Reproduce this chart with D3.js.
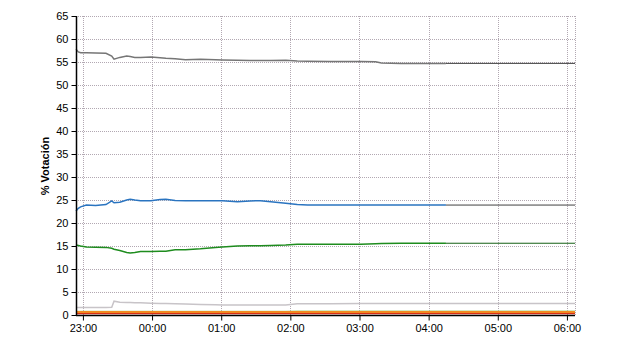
<!DOCTYPE html>
<html>
<head>
<meta charset="utf-8">
<script src="https://cdnjs.cloudflare.com/ajax/libs/d3/7.8.5/d3.min.js"></script>
<style>
  body { margin: 0; background: #fff; }
  svg text { font-family: "Liberation Sans", Arial, sans-serif; font-size: 11px; fill: #000; }
</style>
</head>
<body>
<div class="chart"></div>
<script>
var width = 640;
var height = 350;

// time of each reading (first ones are the evening before)
var times = ["22:54","22:56","22:58","23:03","23:11","23:20","23:25","23:27","23:32","23:38",
  "23:41","23:45","23:50","23:59","00:07","00:12","00:20","00:29","00:42","00:55",
  "01:01","01:14","01:25","01:34","01:43","01:56","02:06","02:15","02:35","03:01",
  "03:14","03:19","03:36","04:15","06:07"];

var grayVals = [57.8,57.2,57.0,57.0,56.95,56.9,56.3,55.6,56.0,56.3,
  56.2,56.0,56.0,56.1,55.9,55.8,55.7,55.5,55.6,55.5,
  55.45,55.4,55.35,55.3,55.35,55.4,55.2,55.15,55.1,55.1,
  55.05,54.8,54.7,54.7,54.7];
var blueVals = [22.6,23.2,23.5,23.9,23.8,24.0,24.8,24.4,24.5,25.0,
  25.15,25.0,24.85,24.85,25.1,25.15,24.9,24.85,24.85,24.85,
  24.85,24.6,24.8,24.85,24.6,24.3,24.0,23.9,23.9,23.9,
  23.9,23.9,23.9,23.9,23.9];
var greenVals = [15.2,15.1,15.0,14.8,14.75,14.7,14.5,14.3,14.0,13.6,
  13.5,13.6,13.8,13.8,13.85,13.85,14.2,14.2,14.4,14.7,
  14.8,15.0,15.05,15.07,15.1,15.2,15.4,15.4,15.4,15.4,
  15.5,15.55,15.6,15.6,15.6];
var lightVals = [1.65,1.65,1.65,1.65,1.65,1.65,1.7,3.0,2.75,2.7,
  2.7,2.65,2.65,2.55,2.5,2.5,2.45,2.4,2.3,2.25,
  2.2,2.2,2.2,2.15,2.15,2.15,2.45,2.45,2.45,2.5,
  2.5,2.5,2.5,2.5,2.5];
var lgreenVals = [0.75,0.75,0.75,0.75,0.75,0.75,0.75,0.75,0.75,0.75,
  0.75,0.75,0.75,0.75,0.75,0.75,0.75,0.75,0.75,0.75,
  0.75,0.75,0.75,0.75,0.75,0.75,0.8,0.8,0.8,0.8,
  0.8,0.8,0.8,0.8,0.8];
var orangeVals = [0.55,0.55,0.55,0.55,0.55,0.55,0.55,0.55,0.55,0.55,
  0.55,0.55,0.55,0.55,0.55,0.55,0.55,0.55,0.55,0.55,
  0.55,0.55,0.55,0.55,0.55,0.55,0.55,0.55,0.55,0.55,
  0.55,0.55,0.55,0.55,0.55];
var redVals = [0.3,0.3,0.3,0.3,0.3,0.3,0.3,0.3,0.3,0.3,
  0.3,0.3,0.3,0.3,0.3,0.3,0.3,0.3,0.3,0.3,
  0.3,0.3,0.3,0.3,0.3,0.3,0.3,0.3,0.3,0.3,
  0.3,0.3,0.3,0.3,0.3];

var yTicks = [0,5,10,15,20,25,30,35,40,45,50,55,60,65];
var xTickLabels = ["23:00","00:00","01:00","02:00","03:00","04:00","05:00","06:00"];

var parseT = function(s){
  var h = +s.slice(0,2);
  var day = h >= 20 ? 1 : 2;
  return new Date(2000, 0, day, h, +s.slice(3,5));
};

var dates = times.map(parseT);
var xTicks = xTickLabels.map(parseT);

var svg = d3.select(".chart").append("svg")
  .attr("width", width)
  .attr("height", height);

var x = d3.scaleTime().domain([dates[0], dates[dates.length - 1]]).range([76, 575]);
var y = d3.scaleLinear().domain([0, 65]).range([315, 16]);

// grid
var grid = svg.append("g")
  .attr("stroke", "#b2a8b2")
  .attr("stroke-dasharray", "1,1")
  .attr("shape-rendering", "crispEdges");

grid.selectAll(".hg").data(yTicks.slice(1)).enter().append("line")
  .attr("x1", 76).attr("x2", 575)
  .attr("y1", function(d){ return Math.round(y(d)) + 0.5; })
  .attr("y2", function(d){ return Math.round(y(d)) + 0.5; });

grid.selectAll(".vg").data(xTicks.concat([dates[dates.length - 1]])).enter().append("line")
  .attr("y1", 16).attr("y2", 315)
  .attr("x1", function(d){ return Math.round(x(d)) + 0.5; })
  .attr("x2", function(d){ return Math.round(x(d)) + 0.5; });

// series
var series = [
  {vals: lightVals, color: "#c8c4c8", width: 1.5},
  {vals: lgreenVals, color: "#a8d080", width: 1.5},
  {vals: orangeVals, color: "#f08a20", width: 3},
  {vals: redVals, color: "#d83018", width: 1.2},
  {vals: greenVals, color: "#1e8c1e", width: 1.5, end: "#136013"},
  {vals: blueVals, color: "#2a74c0", width: 1.5, end: "#404040"},
  {vals: grayVals, color: "#767676", width: 1.5, end: "#404040"}
];

var line = d3.line()
  .x(function(d){ return x(d[0]); })
  .y(function(d){ return y(d[1]); });

series.forEach(function(s){
  var pts = dates.map(function(d, i){ return [d, s.vals[i]]; });
  var main = s.end ? pts.slice(0, pts.length - 1) : pts;
  svg.append("path")
    .attr("d", line(main))
    .attr("fill", "none")
    .attr("stroke", s.color)
    .attr("stroke-width", s.width);
  if (s.end) {
    svg.append("path")
      .attr("d", line(pts.slice(pts.length - 2)))
      .attr("fill", "none")
      .attr("stroke", s.end)
      .attr("stroke-width", 1);
  }
});

// axes
var yAxis = svg.append("g")
  .attr("transform", "translate(76.5,0)")
  .call(d3.axisLeft(y).tickValues(yTicks).tickSize(5).tickPadding(3).tickFormat(d3.format("d")));

var xAxis = svg.append("g")
  .attr("transform", "translate(0,315.5)")
  .call(d3.axisBottom(x).tickValues(xTicks).tickSize(5).tickPadding(4)
    .tickFormat(function(d, i){ return xTickLabels[i]; }));

svg.selectAll(".domain").attr("stroke", "#000").attr("stroke-width", 1.5);
svg.selectAll(".tick line").attr("stroke", "#000");
svg.selectAll(".tick text").style("font-size", "11px").attr("font-family", null);
yAxis.selectAll(".domain").attr("d", "M-0,16V315");
xAxis.selectAll(".domain").attr("d", "M76,0H575");

svg.append("text")
  .attr("transform", "translate(49,166) rotate(-90)")
  .attr("text-anchor", "middle")
  .style("font-weight", "bold")
  .text("% Votación");
</script>
</body>
</html>
